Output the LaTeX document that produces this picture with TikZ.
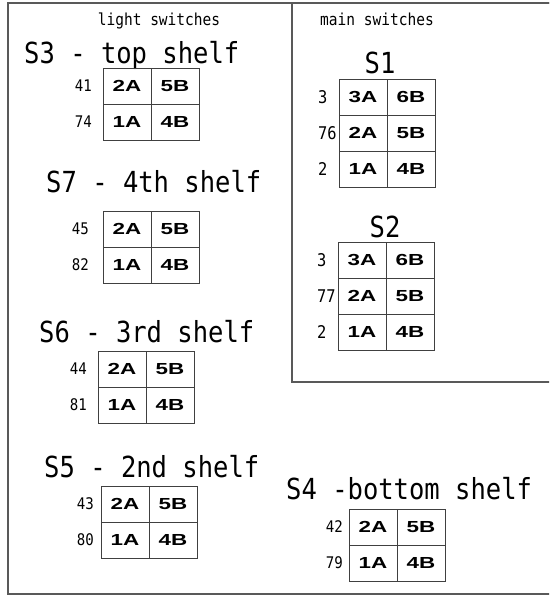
\documentclass[tikz,border=0pt]{standalone}
\usepackage{fontspec}
\usetikzlibrary{positioning}
\newfontfamily\titlefont[FakeStretch=0.88]{DejaVu Sans Mono}
\newfontfamily\cellfont[FakeStretch=1.4]{Liberation Sans}

\tikzset{
  frame/.style={line width=1.2pt, draw=black!65},
  cell/.style={draw=black!75, line width=0.9pt, minimum width=48pt, minimum height=36pt,
    inner sep=0pt, outer sep=0pt, font=\cellfont\bfseries\fontsize{16}{16}\selectfont},
  shelftitle/.style={anchor=base west, inner sep=0pt, font=\titlefont\fontsize{29}{29}\selectfont},
  head/.style={anchor=base, inner sep=0pt, font=\titlefont\fontsize{16.5}{16.5}\selectfont},
  wirenum/.style={anchor=east, inner sep=0pt, font=\titlefont\fontsize{16}{16}\selectfont},
  mainnum/.style={anchor=west, inner sep=0pt, font=\titlefont\fontsize{17.5}{17.5}\selectfont},
}

\begin{document}
\begin{tikzpicture}[x=1pt, y=-1pt]
    \useasboundingbox (0,0) rectangle (549,597);
    \clip (0,0) rectangle (549,597);

    % Frames
    \draw[frame] (8,3) rectangle (556,594);
    \draw[frame] (292,3) rectangle (556,382);
    \node[head] (lighthead) at (159,25) {light switches};
    \node[head, anchor=base west] (mainhead) at (320,25) {main switches};

    % S3 - top shelf
    \node[shelftitle] (s3title) at (24,63) {S3 - top shelf};
    \node[cell, anchor=north west] (s3a) at (103,68) {2A};
    \node[cell, right=0pt of s3a] (s3b) {5B};
    \node[cell, below=0pt of s3a] (s3c) {1A};
    \node[cell, right=0pt of s3c] (s3d) {4B};
    \node[wirenum] (s3n1) at ([xshift=-11pt]s3a.west) {41};
    \node[wirenum] (s3n2) at ([xshift=-11pt]s3c.west) {74};

    % S7 - 4th shelf
    \node[shelftitle] (s7title) at (46,192) {S7 - 4th shelf};
    \node[cell, anchor=north west] (s7a) at (103,211) {2A};
    \node[cell, right=0pt of s7a] (s7b) {5B};
    \node[cell, below=0pt of s7a] (s7c) {1A};
    \node[cell, right=0pt of s7c] (s7d) {4B};
    \node[wirenum] (s7n1) at ([xshift=-14pt]s7a.west) {45};
    \node[wirenum] (s7n2) at ([xshift=-14pt]s7c.west) {82};

    % S6 - 3rd shelf
    \node[shelftitle] (s6title) at (39,342) {S6 - 3rd shelf};
    \node[cell, anchor=north west] (s6a) at (98,351) {2A};
    \node[cell, right=0pt of s6a] (s6b) {5B};
    \node[cell, below=0pt of s6a] (s6c) {1A};
    \node[cell, right=0pt of s6c] (s6d) {4B};
    \node[wirenum] (s6n1) at ([xshift=-11pt]s6a.west) {44};
    \node[wirenum] (s6n2) at ([xshift=-11pt]s6c.west) {81};

    % S5 - 2nd shelf
    \node[shelftitle] (s5title) at (44,477) {S5 - 2nd shelf};
    \node[cell, anchor=north west] (s5a) at (101,486) {2A};
    \node[cell, right=0pt of s5a] (s5b) {5B};
    \node[cell, below=0pt of s5a] (s5c) {1A};
    \node[cell, right=0pt of s5c] (s5d) {4B};
    \node[wirenum] (s5n1) at ([xshift=-7pt]s5a.west) {43};
    \node[wirenum] (s5n2) at ([xshift=-7pt]s5c.west) {80};

    % S4 - bottom shelf
    \node[shelftitle] (s4title) at (286,499) {S4 -bottom shelf};
    \node[cell, anchor=north west] (s4a) at (349,509) {2A};
    \node[cell, right=0pt of s4a] (s4b) {5B};
    \node[cell, below=0pt of s4a] (s4c) {1A};
    \node[cell, right=0pt of s4c] (s4d) {4B};
    \node[wirenum] (s4n1) at ([xshift=-6pt]s4a.west) {42};
    \node[wirenum] (s4n2) at ([xshift=-6pt]s4c.west) {79};

    % S1 (main)
    \node[shelftitle, anchor=base] (s1title) at (380,73) {S1};
    \node[cell, anchor=north west] (s1a) at (339,79) {3A};
    \node[cell, right=0pt of s1a] (s1b) {6B};
    \node[cell, below=0pt of s1a] (s1c) {2A};
    \node[cell, right=0pt of s1c] (s1d) {5B};
    \node[cell, below=0pt of s1c] (s1e) {1A};
    \node[cell, right=0pt of s1e] (s1f) {4B};
    \node[mainnum] (s1n1) at ([xshift=-21pt]s1a.west) {3};
    \node[mainnum] (s1n2) at ([xshift=-21pt]s1c.west) {76};
    \node[mainnum] (s1n3) at ([xshift=-21pt]s1e.west) {2};

    % S2 (main)
    \node[shelftitle, anchor=base] (s2title) at (385,237) {S2};
    \node[cell, anchor=north west] (s2a) at (338,242) {3A};
    \node[cell, right=0pt of s2a] (s2b) {6B};
    \node[cell, below=0pt of s2a] (s2c) {2A};
    \node[cell, right=0pt of s2c] (s2d) {5B};
    \node[cell, below=0pt of s2c] (s2e) {1A};
    \node[cell, right=0pt of s2e] (s2f) {4B};
    \node[mainnum] (s2n1) at ([xshift=-21pt]s2a.west) {3};
    \node[mainnum] (s2n2) at ([xshift=-21pt]s2c.west) {77};
    \node[mainnum] (s2n3) at ([xshift=-21pt]s2e.west) {2};
\end{tikzpicture}
\end{document}
